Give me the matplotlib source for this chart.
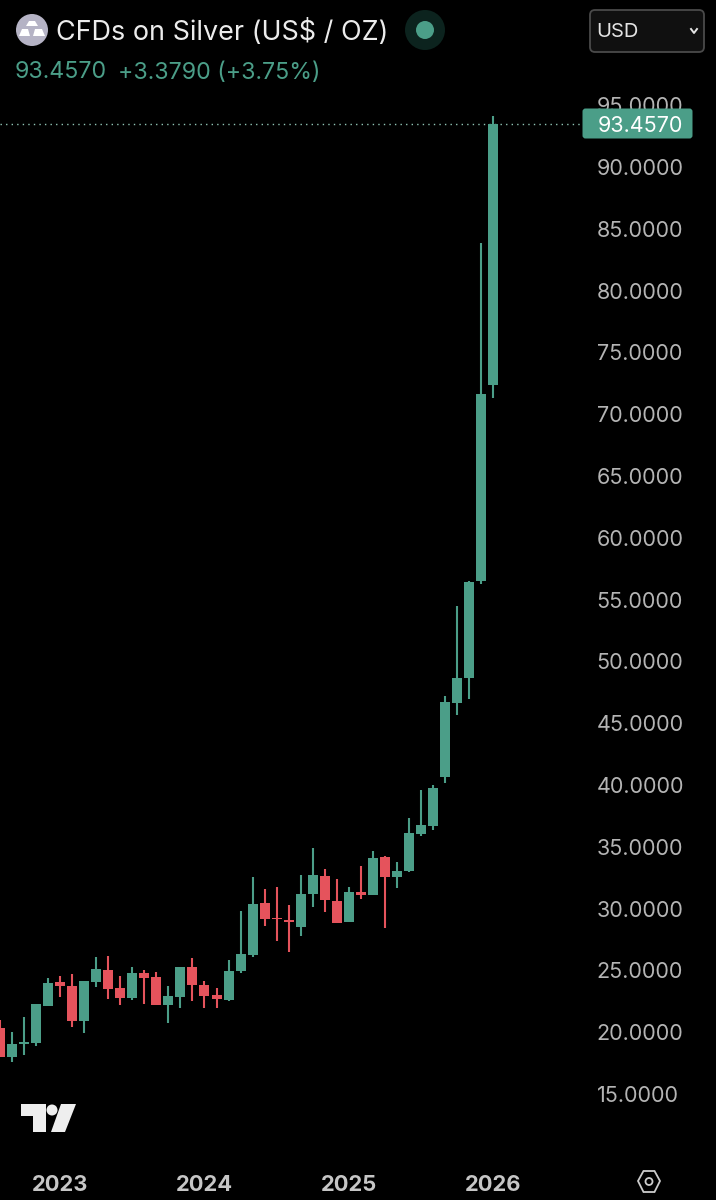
import matplotlib
matplotlib.use("Agg")
import matplotlib.pyplot as plt
from matplotlib.patches import Circle, FancyBboxPatch, Polygon

# Monthly candles, Aug 2022 .. Jan 2026 (index 0 = Jan 2023)
month_index = list(range(-5, 37))
opens = [20.37, 17.97, 19.07, 19.10, 22.14, 24.04, 23.76, 20.88, 24.09, 25.06, 23.55, 22.74, 24.79, 24.47,
         22.20, 22.87, 25.30, 23.82, 22.99, 22.60, 24.95, 26.27, 30.45, 29.24, 29.05, 28.54, 31.16, 32.64,
         30.64, 28.91, 31.34, 31.12, 34.15, 32.56, 33.02, 36.06, 36.68, 40.67, 46.61, 48.63, 56.50, 72.39]
highs = [21.00, 20.04, 21.25, 22.30, 24.36, 24.57, 24.68, 24.17, 26.11, 26.16, 24.57, 25.30, 25.03, 24.87,
         23.74, 25.30, 25.98, 24.14, 23.55, 25.84, 29.83, 32.53, 31.61, 31.77, 30.27, 32.74, 34.88, 33.18,
         32.37, 31.77, 33.42, 34.64, 34.23, 33.75, 37.35, 39.57, 40.00, 47.20, 54.51, 56.53, 83.83, 94.13]
lows = [18.00, 17.61, 18.16, 18.88, 22.10, 22.82, 20.44, 19.96, 23.63, 22.71, 22.18, 22.58, 22.28, 22.20,
        20.74, 21.96, 22.55, 21.98, 21.98, 22.52, 24.81, 26.11, 28.62, 27.35, 26.49, 27.78, 30.15, 29.75,
        28.86, 28.91, 30.75, 31.12, 28.41, 31.69, 33.00, 35.90, 36.38, 40.19, 45.64, 46.93, 56.29, 71.29]
closes = [18.00, 19.05, 19.21, 22.26, 23.96, 23.74, 20.91, 24.17, 25.09, 23.50, 22.74, 24.77, 24.39, 22.20,
          22.90, 25.30, 23.79, 22.93, 22.69, 24.98, 26.33, 30.37, 29.16, 29.13, 28.91, 31.16, 32.69, 30.67,
          28.86, 31.34, 31.12, 34.12, 32.56, 33.04, 36.09, 36.74, 39.73, 46.72, 48.68, 56.42, 71.63, 93.457]
last_price = 93.457
price_ticks = [15, 20, 25, 30, 35, 40, 45, 50, 55, 60, 65, 70, 75, 80, 85, 90, 95]
year_ticks = [0, 12, 24, 36]
year_labels = ["2023", "2024", "2025", "2026"]

GREEN = "#4b9e88"
RED = "#e5535c"
W, H = 716, 1200
plt.rcParams["font.family"] = ["Inter", "DejaVu Sans"]

fig = plt.figure(figsize=(W / 100, H / 100), dpi=100, facecolor="black")
ax = fig.add_axes([0, 40 / H, 582 / W, 1070 / H], facecolor="black")
ax.set_xlim(-60 / 12.04, 522 / 12.04)
ax.set_ylim(9.66, 96.23)

for x, o, h, l, c in zip(month_index, opens, highs, lows, closes):
    col = GREEN if c >= o else RED
    ax.vlines(x, l, h, color=col, lw=1.5, zorder=2)
    ax.bar(x, abs(c - o), bottom=min(o, c), width=0.83, color=col, linewidth=0, zorder=3)

ax.axhline(last_price, color="#8fc4b4", lw=1.0, ls=(0, (1, 3)), zorder=1)

for s in ax.spines.values():
    s.set_visible(False)
ax.yaxis.tick_right()
ax.set_yticks(price_ticks, [f"{v:.4f}" for v in price_ticks])
ax.set_xticks(year_ticks, year_labels)
ax.tick_params(axis="y", length=0, pad=10.6, labelsize=15.5, labelcolor="#b4b4b4")
ax.tick_params(axis="x", length=0, pad=11, labelsize=15.8, labelcolor="#c6c6c6")
for t in ax.get_xticklabels():
    t.set_fontweight("bold")

# Overlay for interface elements, in pixel coordinates
ov = fig.add_axes([0, 0, 1, 1], facecolor="none")
ov.set_xlim(0, W)
ov.set_ylim(H, 0)
ov.axis("off")

ov.add_patch(FancyBboxPatch((584, 110), 107, 27, boxstyle="round,pad=1.5,rounding_size=3",
                            fc=GREEN, ec="none", zorder=5))
ov.text(640, 123.5, f"{last_price:.4f}", color="white", fontsize=15.5, ha="center", va="center_baseline", zorder=6)

# Symbol icon and title
ov.add_patch(Circle((32, 30), 16, fc="#b5b3c5", ec="none"))
for pts in ([(26, 26), (38, 26), (35, 21), (29, 21)],
            [(19, 36), (30, 36), (28, 29), (22, 29)],
            [(33, 36), (45, 36), (42, 29), (35, 29)]):
    ov.add_patch(Polygon(pts, closed=True, fc="white", ec="none"))
ov.text(56, 30, "CFDs on Silver (US$ / OZ)", color="#ececec", fontsize=19.4, va="center_baseline")
ov.add_patch(Circle((425, 30), 20, fc="#0c231e", ec="none"))
ov.add_patch(Circle((425, 30), 9, fc=GREEN, ec="none"))
ov.text(15, 70, "93.4570", color=GREEN, fontsize=16.7, va="center_baseline")
ov.text(118, 70, "+3.3790 (+3.75%)", color=GREEN, fontsize=16.7, va="center_baseline")

# Currency selector
ov.add_patch(FancyBboxPatch((590, 10), 114, 42, boxstyle="round,pad=0,rounding_size=5",
                            fc="#101010", ec="#4a4a4a", lw=1.3))
ov.text(596, 30, "USD", color="#e4e4e4", fontsize=14.5, va="center_baseline")
ov.plot([691, 694, 697], [29, 33, 29], color="#e4e4e4", lw=1.4)

# TradingView mark
ov.add_patch(Polygon([(21, 1104), (46, 1104), (46, 1132), (33, 1132), (33, 1116), (21, 1116)], closed=True,
                     fc="#eeeeee", ec="none"))
ov.add_patch(Circle((52, 1110), 5.5, fc="#eeeeee", ec="none"))
ov.add_patch(Polygon([(61, 1104), (76, 1104), (65, 1132), (51, 1132)], closed=True, fc="#eeeeee", ec="none"))

# Settings hexagon
ov.add_patch(Polygon([(638, 1181), (643.5, 1171), (654.5, 1171), (660, 1181), (654.5, 1192), (643.5, 1192)],
                     closed=True, fc="none", ec="#cccccc", lw=1.3))
ov.add_patch(Circle((649, 1181.5), 3.5, fc="none", ec="#cccccc", lw=1.3))

fig.savefig("out.png", dpi=100, facecolor="black")
